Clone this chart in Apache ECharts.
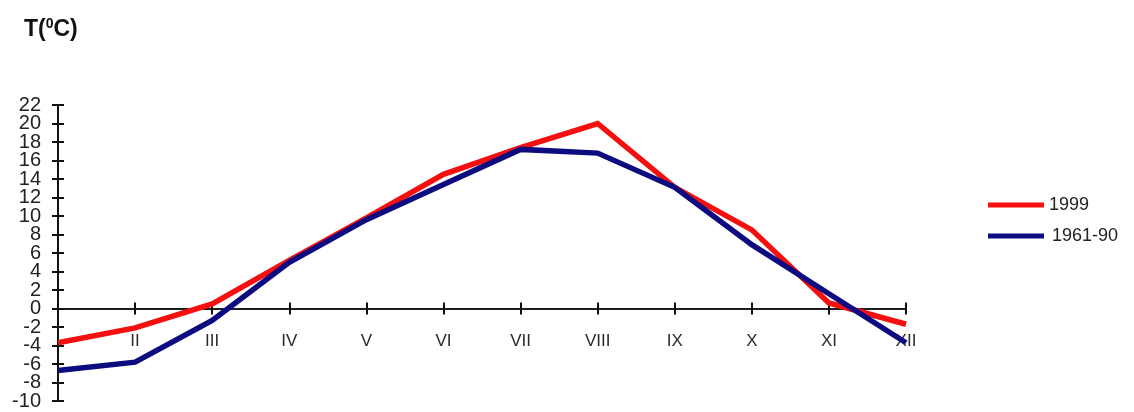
<!DOCTYPE html>
<html>
<head>
<meta charset="utf-8">
<script src="https://cdn.jsdelivr.net/npm/echarts@6/dist/echarts.min.js"></script>
<style>
  html, body { margin: 0; padding: 0; background: #fff; }
  #chart { width: 1134px; height: 412px; }
</style>
</head>
<body>
<div id="chart"></div>
<script>
// Monthly mean air temperature (°C)
const months = ['I', 'II', 'III', 'IV', 'V', 'VI', 'VII', 'VIII', 'IX', 'X', 'XI', 'XII'];
const temp1999 = [-3.7, -2.1, 0.5, 5.2, 9.8, 14.5, 17.4, 20.0, 13.1, 8.5, 0.6, -1.7];
const temp1961_90 = [-6.7, -5.8, -1.3, 5.0, 9.6, 13.4, 17.2, 16.8, 13.1, 6.9, 1.6, -3.7];
const yMin = -10, yMax = 22, yStep = 2;

const axisColor = '#111';
const font = 'Liberation Sans, Arial, sans-serif';

const chart = echarts.init(document.getElementById('chart'), null, { renderer: 'canvas' });

// Two copies of each axis: one with outward ticks, one with inward ticks,
// so the tick marks cross the axis lines.
const xBase = {
  type: 'category',
  data: months,
  boundaryGap: false,
  axisLine: { onZero: true, onZeroAxisIndex: 0, lineStyle: { color: axisColor, width: 1.5 } },
  splitLine: { show: false }
};
const yBase = {
  type: 'value',
  min: yMin, max: yMax, interval: yStep,
  position: 'left',
  splitLine: { show: false },
  axisLine: { show: true, onZero: false, lineStyle: { color: axisColor, width: 2 } }
};
// The tightly packed y labels are split between the two y axes
// (alternate ticks on each) so none of them gets dropped as overlapping.
const yLabel = (parity) => ({
  show: true, margin: 17, fontFamily: font, fontSize: 20, color: '#222',
  showMinLabel: true, showMaxLabel: true, hideOverlap: false,
  formatter: (v) => (Math.round((v - yMin) / yStep) % 2 === parity ? String(v) : '')
});

chart.setOption({
  animation: false,
  backgroundColor: '#fff',
  title: {
    text: '{a|T(}{s|0}{a|C)}',
    left: 19, top: 12,
    textStyle: {
      rich: {
        a: { fontFamily: font, fontWeight: 'bold', fontSize: 23, color: '#111' },
        s: { fontFamily: font, fontWeight: 'bold', fontSize: 14, color: '#111', padding: [0, 0, 12, 0] }
      }
    }
  },
  legend: {
    orient: 'vertical',
    left: 983, top: 191,
    itemWidth: 56, itemHeight: 5, itemGap: 13,
    icon: 'rect',
    textStyle: { fontFamily: font, fontSize: 18, color: '#222' },
    data: [
      { name: '1999' },
      { name: '1961-90', textStyle: { padding: [0, 0, 0, 3] } }
    ]
  },
  grid: { left: 58, right: 228, top: 105, bottom: 11, containLabel: false, outerBoundsMode: 'none' },
  xAxis: [
    Object.assign({}, xBase, {
      axisTick: { show: true, inside: false, length: 6, lineStyle: { color: axisColor, width: 2 } },
      axisLabel: {
        show: true, margin: -68, fontFamily: font, fontSize: 17, color: '#2a2a2a',
        interval: (idx) => idx > 0
      }
    }),
    Object.assign({}, xBase, {
      position: 'bottom',
      axisTick: { show: true, inside: true, length: 6, lineStyle: { color: axisColor, width: 2 } },
      axisLabel: { show: false }
    })
  ],
  yAxis: [
    Object.assign({}, yBase, {
      axisTick: { show: true, inside: false, length: 6, lineStyle: { color: axisColor, width: 2 } },
      axisLabel: yLabel(0)
    }),
    Object.assign({}, yBase, {
      axisTick: { show: true, inside: true, length: 6, lineStyle: { color: axisColor, width: 2 } },
      axisLabel: yLabel(1)
    })
  ],
  series: [
    {
      name: '1999', type: 'line', data: temp1999,
      xAxisIndex: 0, yAxisIndex: 0,
      symbol: 'none', color: '#f50f0f',
      lineStyle: { width: 5.5, color: '#f50f0f', join: 'miter' }
    },
    {
      name: '1961-90', type: 'line', data: temp1961_90,
      xAxisIndex: 0, yAxisIndex: 0,
      symbol: 'none', color: '#0c0c80',
      lineStyle: { width: 5.5, color: '#0c0c80', join: 'miter' }
    }
  ]
});
</script>
</body>
</html>
